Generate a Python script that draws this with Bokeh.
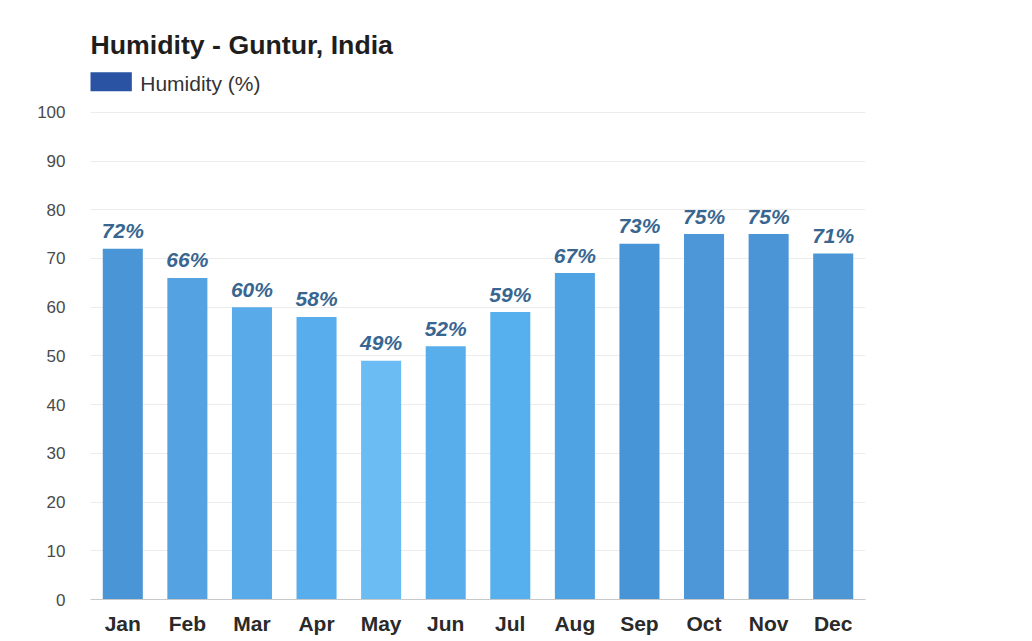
from bokeh.plotting import figure
from bokeh.models import ColumnDataSource, Label, FixedTicker, Range1d, FactorRange
from bokeh.core.properties import value
from bokeh.embed import file_html
from bokeh.resources import INLINE

months = ["Jan", "Feb", "Mar", "Apr", "May", "Jun", "Jul", "Aug", "Sep", "Oct", "Nov", "Dec"]
humidity = [72, 66, 60, 58, 49, 52, 59, 67, 73, 75, 75, 71]
bar_colors = ["#4a95d6", "#54a2e2", "#58abe8", "#58aeec", "#6bbcf2", "#58aeeb",
              "#56b0ee", "#4fa3e2", "#4794d6", "#4d97d8", "#4b95d6", "#4c96d6"]
y_ticks = [0, 10, 20, 30, 40, 50, 60, 70, 80, 90, 100]
title_text = "Humidity - Guntur, India"
legend_text = "Humidity (%)"

labels = [f"{v}%" for v in humidity]
src = ColumnDataSource(dict(month=months, value=humidity, color=bar_colors, label=labels))

FONT = "Liberation Sans"

p = figure(width=1016, height=640, output_backend="svg", toolbar_location=None,
           x_range=FactorRange(*months, range_padding=0),
           y_range=Range1d(0, 121.1),
           min_border_left=90, min_border_right=151, min_border_top=9, min_border_bottom=41)
p.x_range.factor_padding = 0
p.outline_line_color = None
p.background_fill_color = "white"
p.border_fill_color = "white"

p.vbar(x="month", top="value", width=0.62, fill_color="color", line_color=None, source=src)

p.text(x="month", y="value", text="label", source=src,
       text_align="center", text_baseline="middle", y_offset=-18,
       text_font=value(FONT), text_font_size="21px", text_font_style="bold italic",
       text_color="#386690")

# axes
p.yaxis.ticker = FixedTicker(ticks=y_ticks)
p.yaxis.axis_line_color = None
p.yaxis.major_tick_line_color = None
p.yaxis.minor_tick_line_color = None
p.yaxis.major_label_text_font = FONT
p.yaxis.major_label_text_font_size = "17px"
p.yaxis.major_label_text_color = "#4a4a4a"
p.yaxis.major_label_standoff = 19

p.xaxis.axis_line_color = "#c8c8c8"
p.xaxis.major_tick_line_color = None
p.xaxis.minor_tick_line_color = None
p.xaxis.major_label_text_font = FONT
p.xaxis.major_label_text_font_size = "21px"
p.xaxis.major_label_text_font_style = "bold"
p.xaxis.major_label_text_color = "#2a2a2a"
p.xaxis.major_label_standoff = 6

p.xgrid.grid_line_color = None
p.ygrid.grid_line_color = "#ececec"

# title and legend drawn inside the frame area
p.add_layout(Label(x=0.0, y=113.8, text=title_text, text_font=FONT, text_font_size="26.7px",
                   text_font_style="bold", text_color="#1e1e1e", text_baseline="middle"))
p.quad(left=[-0.01], right=[0.64], bottom=[104.3], top=[108.2], fill_color="#2a54a3", line_color=None)
p.add_layout(Label(x=0.77, y=105.9, text=legend_text, text_font=FONT, text_font_size="21px",
                   text_color="#333333", text_baseline="middle"))

open("out.html", "w").write(file_html(p, INLINE))
